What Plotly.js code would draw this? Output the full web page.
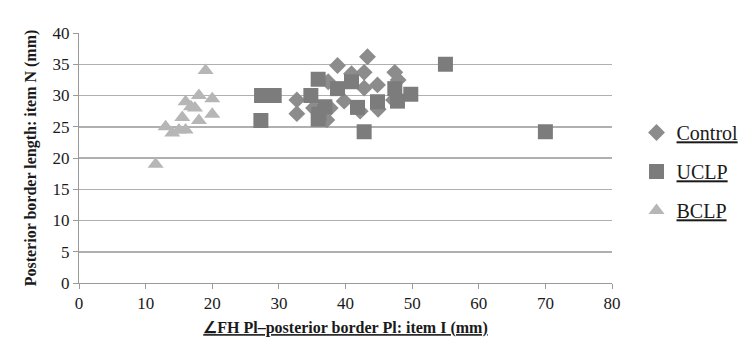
<!DOCTYPE html>
<html><head><meta charset="utf-8">
<script src="https://cdn.plot.ly/plotly-3.0.1.min.js"></script>
<style>html,body{margin:0;padding:0;background:#fff;}#chart{width:741px;height:345px;}</style>
</head><body><div id="chart"></div>
<script>
const seriesNames = ["Control", "UCLP", "BCLP"];
const controlX = [32.7, 32.7, 35.2, 37.2, 37.4, 37.7, 38.8, 39.8, 40.9, 42.2, 42.8, 42.8, 43.3, 44.8, 44.9, 47.2, 47.4, 47.9];
const controlY = [29.3, 27.1, 28.0, 26.1, 32.2, 28.0, 34.8, 29.1, 33.5, 27.5, 33.7, 31.2, 36.2, 31.7, 27.8, 29.3, 33.7, 32.5];
const uclpX = [27.3, 27.4, 29.3, 34.8, 35.9, 36.9, 35.9, 36.0, 38.8, 40.9, 41.8, 42.8, 44.8, 47.4, 47.8, 49.8, 55.0, 70.0];
const uclpY = [26.0, 30.0, 30.0, 30.0, 32.6, 28.2, 26.2, 27.0, 31.1, 32.2, 28.1, 24.2, 29.0, 31.1, 29.1, 30.2, 35.0, 24.2];
const bclpX = [11.5, 13.0, 14.0, 15.0, 16.0, 15.5, 16.0, 16.8, 17.4, 18.0, 18.0, 19.0, 20.0, 20.0];
const bclpY = [19.0, 25.0, 24.0, 24.5, 24.5, 26.5, 29.0, 28.2, 28.0, 30.0, 26.0, 34.0, 29.5, 27.0];
const xTicks = [0, 10, 20, 30, 40, 50, 60, 70, 80];
const yTicks = [0, 5, 10, 15, 20, 25, 30, 35, 40];

const serif = "Liberation Serif";
const ink = "#1a1a1a";
const traces = [
  {x: controlX, y: controlY, name: "<u>" + seriesNames[0] + "</u>", type: "scatter", mode: "markers", legendgroup: "a",
   marker: {symbol: "diamond", size: 13, color: "#8c8c8c"}},
  {x: uclpX, y: uclpY, name: "<u>" + seriesNames[1] + "</u>", type: "scatter", mode: "markers", legendgroup: "b",
   marker: {symbol: "square", size: 15, color: "#7c7c7c"}},
  {x: bclpX, y: bclpY, name: "<u>" + seriesNames[2] + "</u>", type: "scatter", mode: "markers", legendgroup: "c",
   marker: {symbol: "triangle-up", size: 14, color: "#b6b6b6"}}
];
const layout = {
  width: 741, height: 345,
  margin: {l: 79, r: 129, t: 33, b: 62, autoexpand: false},
  paper_bgcolor: "#fff", plot_bgcolor: "#fff",
  font: {family: serif, color: ink, size: 15},
  showlegend: true,
  legend: {x: 1.046, xanchor: "left", y: 0.68, yanchor: "top", font: {family: serif, size: 20, color: ink},
           traceorder: "grouped", tracegroupgap: 10, itemwidth: 30, bgcolor: "rgba(0,0,0,0)"},
  xaxis: {range: [0, 80], tickvals: xTicks, ticktext: xTicks.map(String), showgrid: false, zeroline: false,
          showline: true, linecolor: "#9a9a9a", linewidth: 1, ticks: "outside", ticklen: 5, tickcolor: "#9a9a9a",
          tickfont: {family: serif, size: 17, color: ink}, automargin: false,
          title: {text: "<b><u>∠FH Pl–posterior border Pl: item I (mm)</u></b>", font: {family: serif, size: 16, color: ink}, standoff: 9}},
  yaxis: {range: [0, 40], tickvals: yTicks, ticktext: yTicks.map(String), showgrid: true, gridcolor: "#b0b0b0", gridwidth: 1.5,
          zeroline: false, showline: true, linecolor: "#9a9a9a", linewidth: 1, ticks: "outside", ticklen: 5, tickcolor: "#9a9a9a",
          tickfont: {family: serif, size: 17, color: ink}, automargin: false,
          title: {text: "<b>Posterior border length: item N (mm)</b>", font: {family: serif, size: 16, color: ink}, standoff: 11}}
};
Plotly.newPlot("chart", traces, layout, {displayModeBar: false, staticPlot: true});
</script></body></html>
